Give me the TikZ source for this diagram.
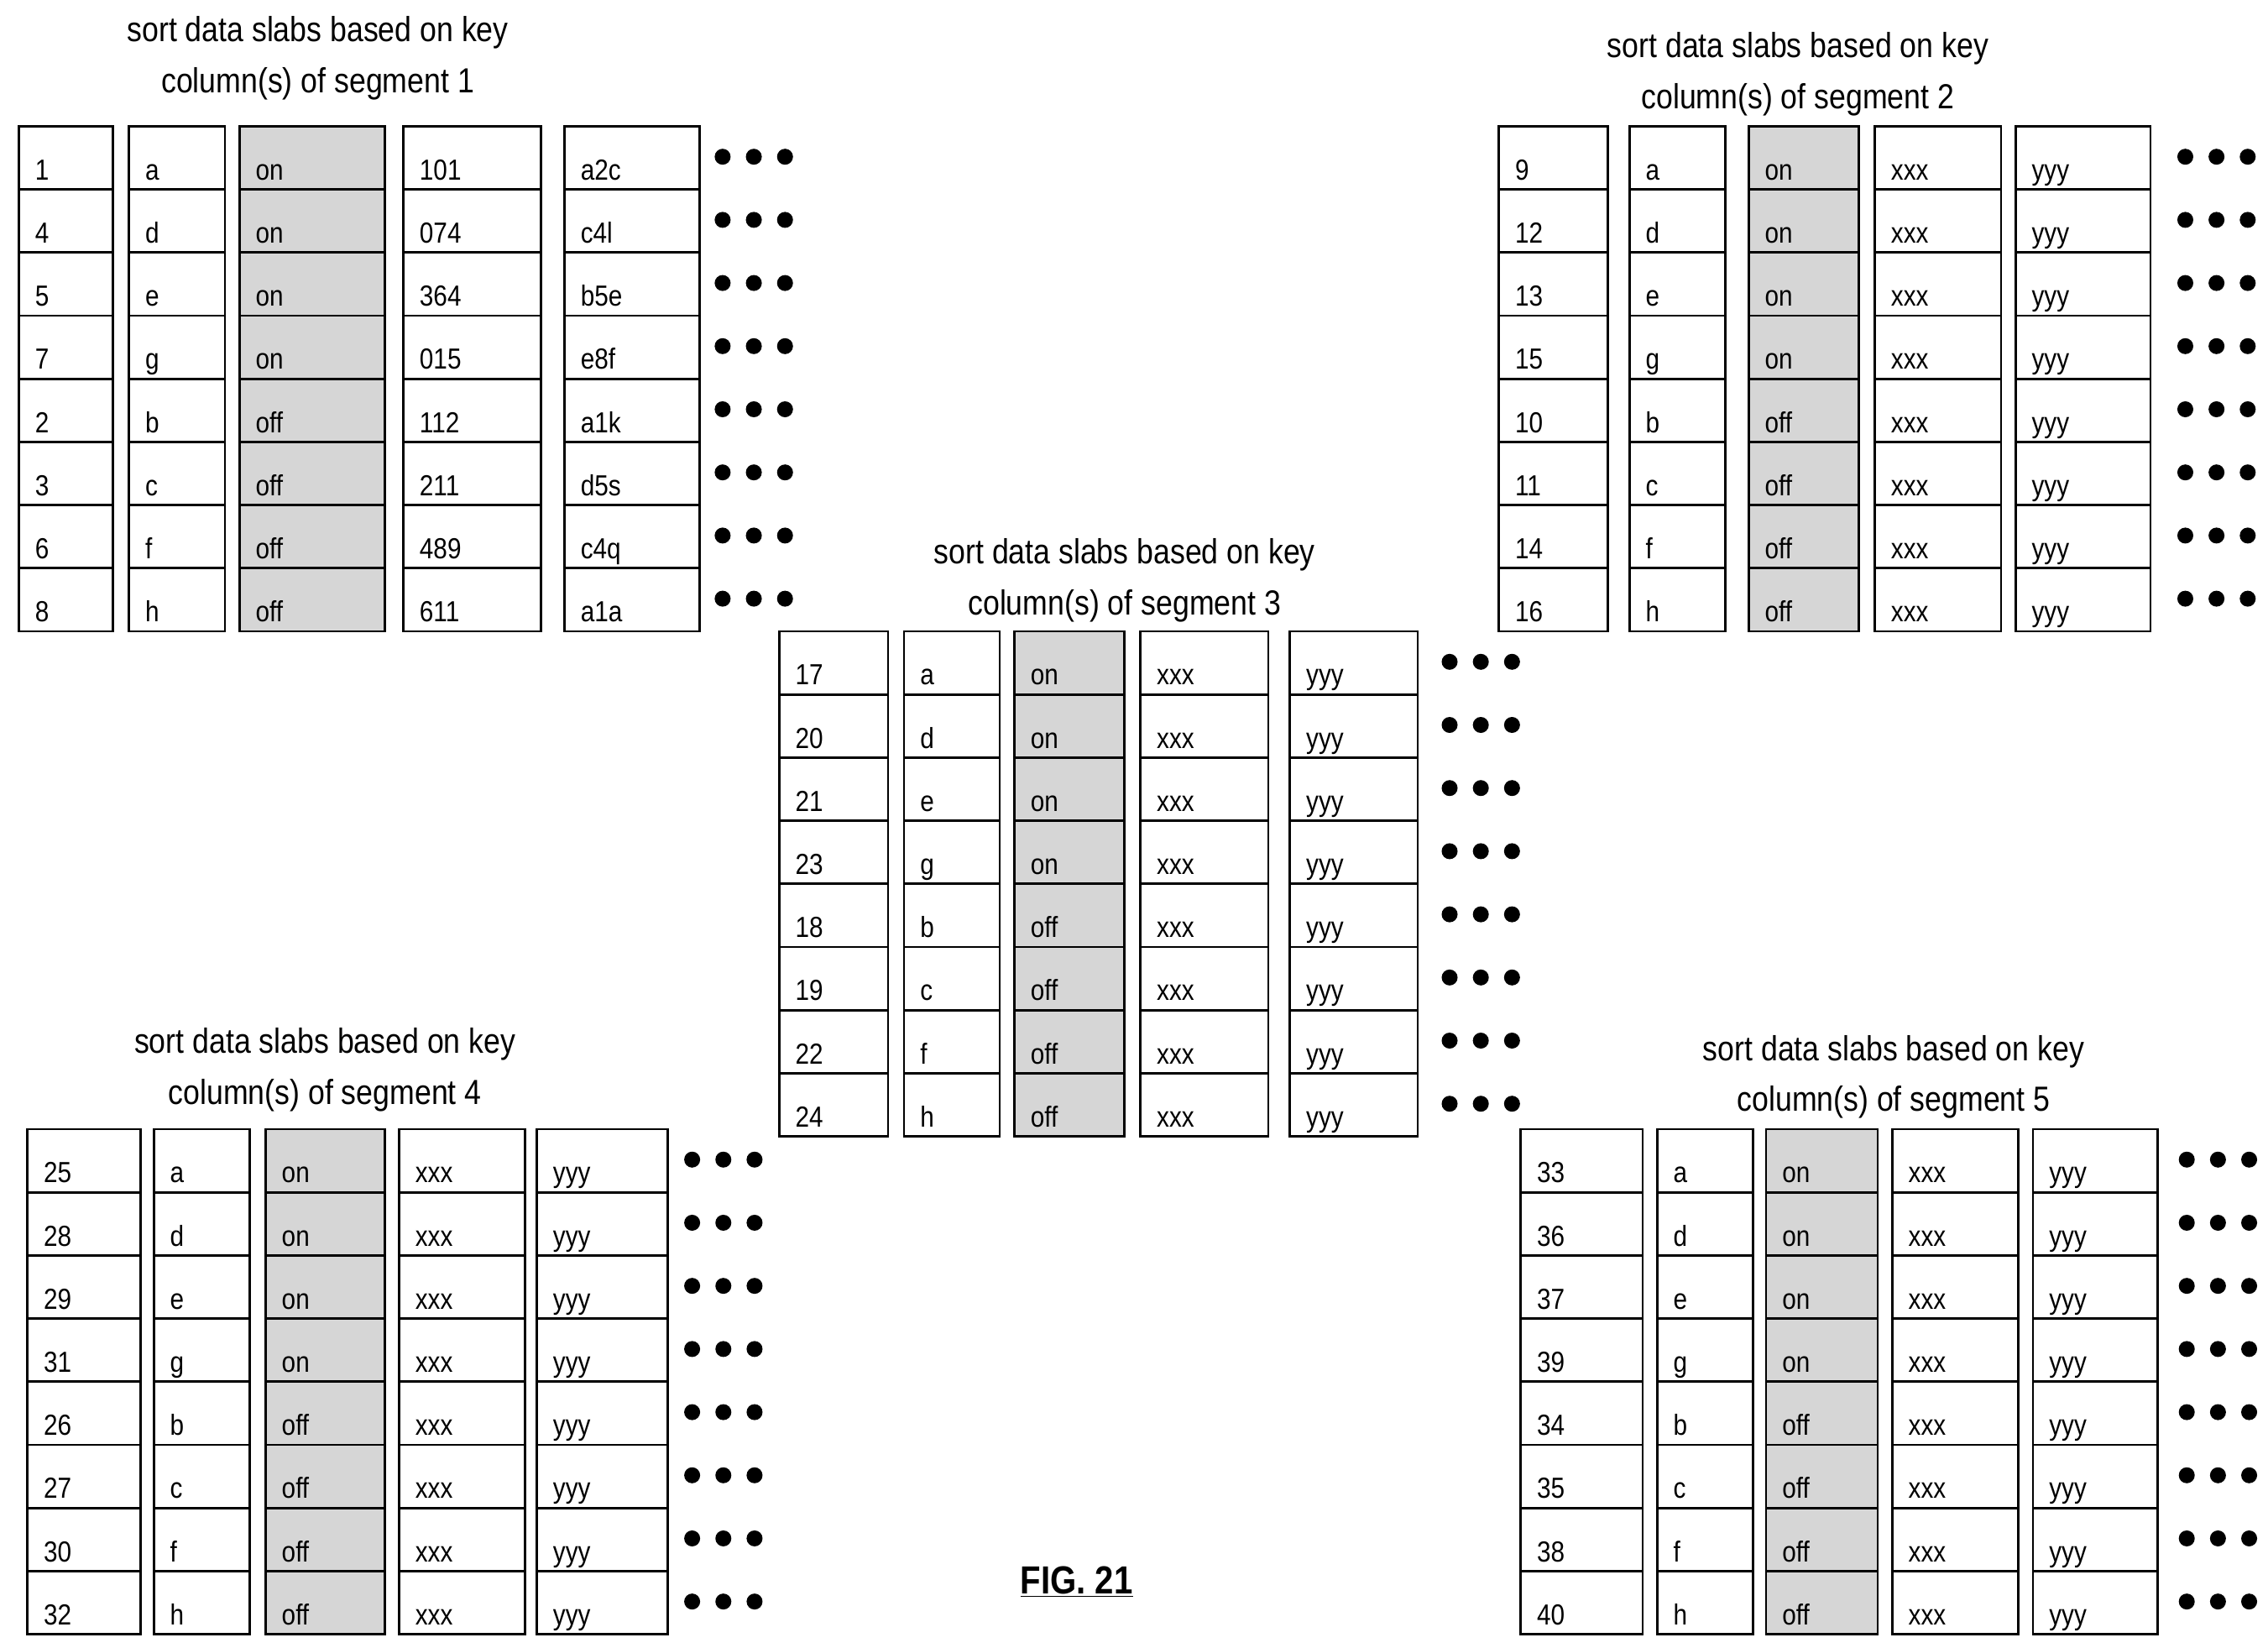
\documentclass[tikz,border=0pt]{standalone}
\usepackage{fontspec}
\setmainfont[FakeStretch=0.86]{Liberation Sans}
\begin{document}
\begin{tikzpicture}[x=1pt,y=-1pt,
  cell/.style={draw,line width=1.6pt,inner sep=0pt,outer sep=0pt},
  gcell/.style={cell,fill=gray!32},
  ctext/.style={anchor=base west,inner sep=0pt,font=\fontsize{20}{22}\selectfont},
  dot/.style={circle,fill=black,inner sep=0pt,minimum size=11pt},
  title/.style={align=center,font=\fontsize{24}{35}\selectfont}]
\useasboundingbox (0,0) rectangle (1563,1135);
\newcommand\slab[5]{% #1 name, #2 ytop, #3 cols, #4 dot x, #5 rows
  \foreach [count=\r] \va/\vb/\vc/\vd/\ve in {#5}{
    \pgfmathsetmacro\yt{#2+(\r-1)*43.5}
    \foreach [count=\c] \l/\rr in {#3}{
      \pgfmathsetmacro\w{\rr-\l}
      \pgfmathsetmacro\cx{(\l+\rr)/2}
      \pgfmathsetmacro\cy{\yt+21.75}
      \ifnum\c=3 \def\sty{gcell}\else\def\sty{cell}\fi
      \node[\sty,minimum width=\w pt,minimum height=43.5pt] (#1-\r-\c) at (\cx,\cy) {};
      \node[ctext] (#1-\r-\c-t) at (\l+11,\yt+37) {\ifcase\c\or\va\or\vb\or\vc\or\vd\or\ve\fi};
    }
    \foreach \k in {0,1,2}{
      \node[dot] (#1-\r-d\k) at (#4+\k*21.5,\yt+21) {};
    }
  }
}
% segment 1
\node[title] (t1) at (219,40) {sort data slabs based on key\\column(s) of segment 1};
\slab{s1}{87}{13/78,89/155,165/265,278/373,389/482}{498}{1/a/on/101/a2c,4/d/on/074/c4l,5/e/on/364/b5e,7/g/on/015/e8f,2/b/off/112/a1k,3/c/off/211/d5s,6/f/off/489/c4q,8/h/off/611/a1a}
% segment 2
\node[title] (t2) at (1239,51) {sort data slabs based on key\\column(s) of segment 2};
\slab{s2}{87}{1033/1108,1123/1189,1205/1281,1292/1379,1389/1482}{1506}{9/a/on/xxx/yyy,12/d/on/xxx/yyy,13/e/on/xxx/yyy,15/g/on/xxx/yyy,10/b/off/xxx/yyy,11/c/off/xxx/yyy,14/f/off/xxx/yyy,16/h/off/xxx/yyy}
% segment 3
\node[title] (t3) at (775,400) {sort data slabs based on key\\column(s) of segment 3};
\slab{s3}{435}{537/612,623/689,699/775,786/874,889/977}{999}{17/a/on/xxx/yyy,20/d/on/xxx/yyy,21/e/on/xxx/yyy,23/g/on/xxx/yyy,18/b/off/xxx/yyy,19/c/off/xxx/yyy,22/f/off/xxx/yyy,24/h/off/xxx/yyy}
% segment 4
\node[title] (t4) at (224,737) {sort data slabs based on key\\column(s) of segment 4};
\slab{s4}{778}{19/97,106/172,183/265,275/362,370/460}{477}{25/a/on/xxx/yyy,28/d/on/xxx/yyy,29/e/on/xxx/yyy,31/g/on/xxx/yyy,26/b/off/xxx/yyy,27/c/off/xxx/yyy,30/f/off/xxx/yyy,32/h/off/xxx/yyy}
% segment 5
\node[title] (t5) at (1305,742) {sort data slabs based on key\\column(s) of segment 5};
\slab{s5}{778}{1048/1132,1142/1208,1217/1294,1304/1391,1401/1487}{1507}{33/a/on/xxx/yyy,36/d/on/xxx/yyy,37/e/on/xxx/yyy,39/g/on/xxx/yyy,34/b/off/xxx/yyy,35/c/off/xxx/yyy,38/f/off/xxx/yyy,40/h/off/xxx/yyy}
\node[font=\fontsize{27}{30}\selectfont\bfseries] (fig) at (742,1090) {\underline{FIG. 21}};
\end{tikzpicture}
\end{document}
